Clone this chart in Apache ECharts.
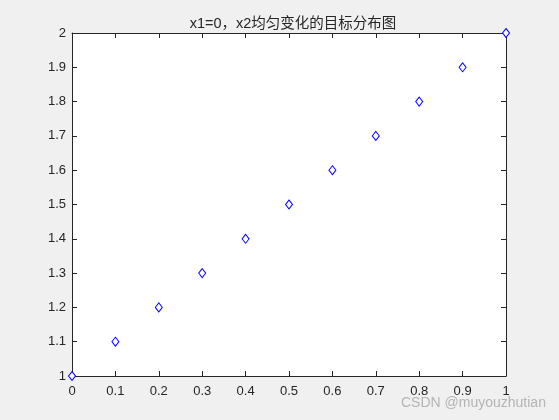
<!DOCTYPE html>
<html><head><meta charset="utf-8">
<script src="https://cdn.jsdelivr.net/npm/echarts@6/dist/echarts.min.js"></script>
<style>html,body{margin:0;padding:0;background:#f0f0f0}#c{width:559px;height:420px}</style>
</head><body><div id="c"></div>
<script>
const xValues = [0, 0.1, 0.2, 0.3, 0.4, 0.5, 0.6, 0.7, 0.8, 0.9, 1];
const yValues = [1, 1.1, 1.2, 1.3, 1.4, 1.5, 1.6, 1.7, 1.8, 1.9, 2];
const titleText = 'x1=0，x2均匀变化的目标分布图';
const watermark = 'CSDN @muyouzhutian';

const axCol = '#262626';
const font = 'Arial, "Liberation Sans", "Noto Sans CJK SC", sans-serif';
const chart = echarts.init(document.getElementById('c'), null, {renderer: 'canvas'});
function axisBase(show) {
  return {
    axisLine: {show: true, onZero: false, lineStyle: {color: axCol, width: 1}},
    axisTick: {show: true, inside: true, length: 5, lineStyle: {color: axCol}},
    splitLine: {show: false},
    axisLabel: {show: show, color: axCol, fontSize: 13, fontFamily: font}
  };
}
const fmt = v => String(Math.round(v * 10) / 10);
const option = {
  backgroundColor: '#f0f0f0',
  animation: false,
  title: {
    text: titleText, left: 288, top: 12, textAlign: 'center',
    textStyle: {color: axCol, fontSize: 14.5, fontWeight: 'normal', fontFamily: font}
  },
  grid: {left: 72, top: 33, right: 53, bottom: 44, show: true, backgroundColor: '#ffffff', borderWidth: 0},
  xAxis: [
    Object.assign(axisBase(true), {type: 'value', position: 'bottom', min: 0, max: 1, interval: 0.1,
      axisLabel: Object.assign(axisBase(true).axisLabel, {margin: 9, formatter: fmt})}),
    Object.assign(axisBase(false), {type: 'value', position: 'top', min: 0, max: 1, interval: 0.1})
  ],
  yAxis: [
    Object.assign(axisBase(true), {type: 'value', position: 'left', min: 1, max: 2, interval: 0.1,
      axisLabel: Object.assign(axisBase(true).axisLabel, {margin: 6, formatter: fmt})}),
    Object.assign(axisBase(false), {type: 'value', position: 'right', min: 1, max: 2, interval: 0.1})
  ],
  series: [{
    type: 'scatter',
    xAxisIndex: 0, yAxisIndex: 0,
    data: xValues.map((x, i) => [x, yValues[i]]),
    symbol: 'diamond',
    symbolSize: [7, 9],
    clip: false,
    itemStyle: {color: '#ffffff', borderColor: '#0000ff', borderWidth: 1, opacity: 1}
  }],
  graphic: [{
    type: 'text', left: 401, top: 396,
    style: {text: watermark, fill: '#b4b4b4', fontSize: 14, fontFamily: font}
  }]
};
chart.setOption(option);
</script></body></html>
